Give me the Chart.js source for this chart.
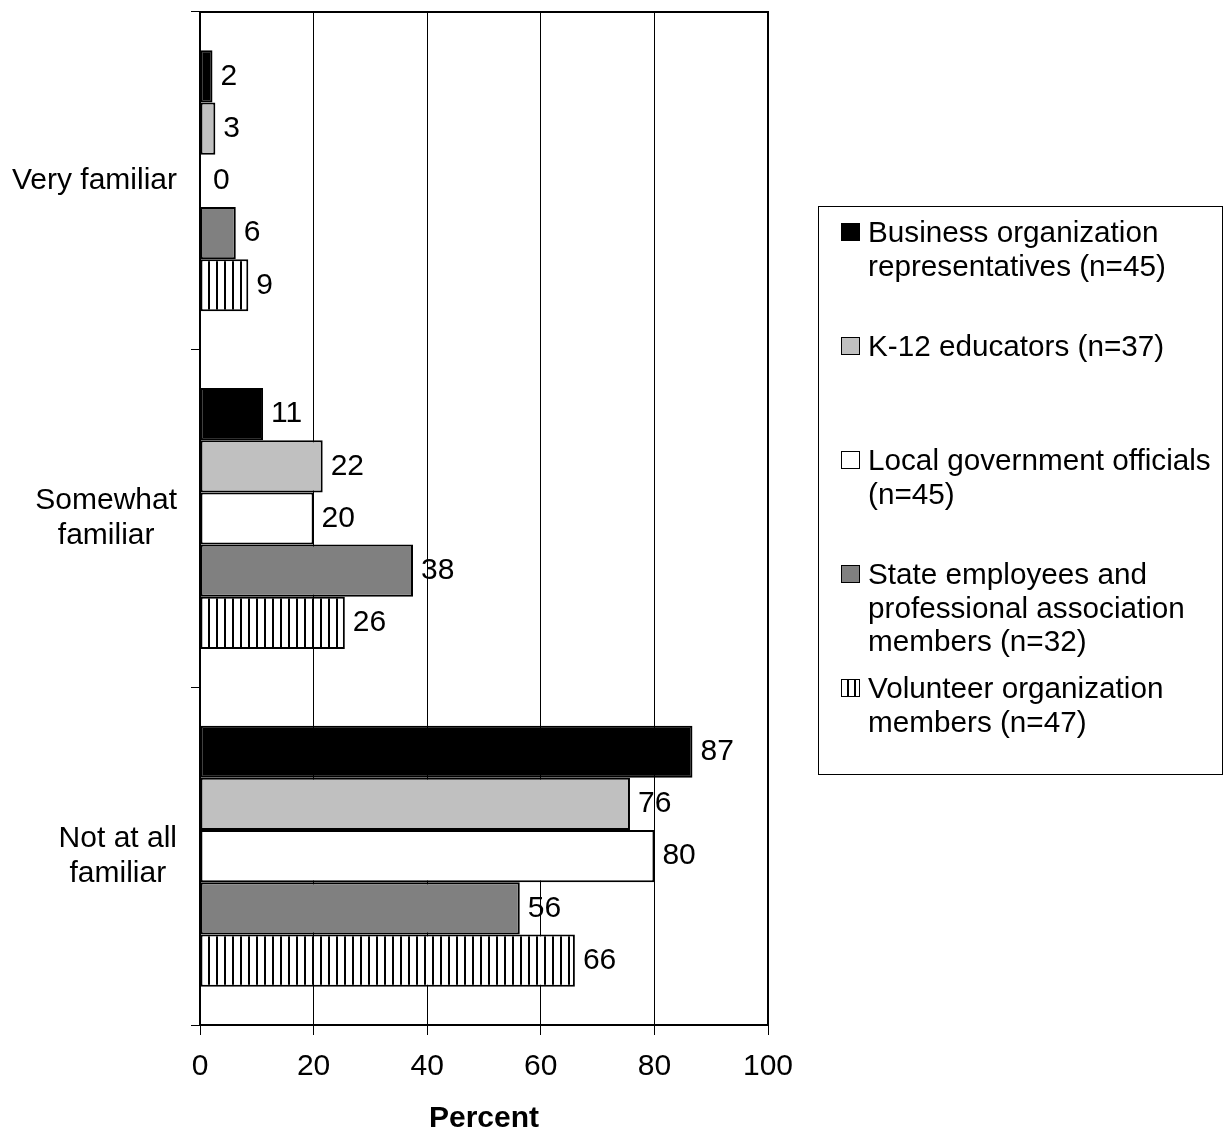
<!DOCTYPE html>
<html>
<head>
<meta charset="utf-8">
<script src="https://cdn.jsdelivr.net/npm/chart.js@4.4.0/dist/chart.umd.min.js"></script>
<style>
    html, body { margin: 0; padding: 0; background: #fff; }
    #wrap { position: relative; width: 1225px; height: 1132px; }
    #legend {
        position: absolute; left: 818px; top: 206px; width: 405px; height: 569px;
        border: 1px solid #000; box-sizing: border-box;
        font-family: "Liberation Sans", Arial, sans-serif; font-size: 29.7px; line-height: 33.5px; color: #000;
    }
    #legend .item { position: absolute; left: 49px; white-space: nowrap; }
    #legend .sw { position: absolute; left: -27px; top: 8px; width: 19px; height: 18px; border: 1.5px solid #000; box-sizing: border-box; }
</style>
</head>
<body>
<div id="wrap">
    <canvas id="grafico" width="1225" height="1132"></canvas>
    <div id="legend"></div>
</div>
<script>
// Categorias e séries (percentuais)
const categories = [['Very familiar'], ['Somewhat', 'familiar'], ['Not at all', 'familiar']];
const seriesNames = [
    ['Business organization', 'representatives (n=45)'],
    ['K-12 educators (n=37)'],
    ['Local government officials', '(n=45)'],
    ['State employees and', 'professional association', 'members (n=32)'],
    ['Volunteer organization', 'members (n=47)']
];
const business = [2.2, 11.1, 86.7];
const k12 = [2.7, 21.6, 75.7];
const localGov = [0, 20.0, 80.0];
const stateEmp = [6.3, 37.5, 56.3];
const volunteer = [8.5, 25.5, 66.0];
const xTicks = [0, 20, 40, 60, 80, 100];
const fills = ['#000000', '#c0c0c0', '#ffffff', '#808080', 'stripes'];
const legendTops = [8, 122, 236, 350, 464];

const FONT = '"Liberation Sans", Arial, sans-serif';
const SIZE = 30;

function stripes() {
    const c = document.createElement('canvas');
    c.width = 8; c.height = 8;
    const g = c.getContext('2d');
    g.fillStyle = '#fff';
    g.fillRect(0, 0, 8, 8);
    g.fillStyle = '#000';
    g.fillRect(0, 0, 2, 8);
    return g.createPattern(c, 'repeat');
}

const allSeries = [business, k12, localGov, stateEmp, volunteer];

// moldura do gráfico
const frame = {
    id: 'frame',
    afterDatasetsDraw(chart) {
        const a = chart.chartArea, ctx = chart.ctx;
        ctx.save();
        ctx.strokeStyle = '#000';
        ctx.lineWidth = 2;
        ctx.strokeRect(a.left, a.top, a.right - a.left, a.bottom - a.top);
        ctx.restore();
    }
};

// rótulos dos valores
const valueLabels = {
    id: 'valueLabels',
    afterDatasetsDraw(chart) {
        const ctx = chart.ctx;
        ctx.save();
        ctx.font = SIZE + 'px ' + FONT;
        ctx.fillStyle = '#000';
        ctx.textAlign = 'left';
        ctx.textBaseline = 'middle';
        chart.data.datasets.forEach((ds, i) => {
            chart.getDatasetMeta(i).data.forEach((bar, j) => {
                const gap = ds.data[j] === 0 ? 13 : 8;
                ctx.fillText(String(Math.round(ds.data[j])), bar.x + gap, bar.y);
            });
        });
        ctx.restore();
    }
};

// rótulos das categorias (linhas centradas, bloco alinhado à direita)
const categoryLabels = {
    id: 'categoryLabels',
    afterDraw(chart) {
        const ctx = chart.ctx, y = chart.scales.y;
        ctx.save();
        ctx.font = SIZE + 'px ' + FONT;
        ctx.fillStyle = '#000';
        ctx.textAlign = 'center';
        ctx.textBaseline = 'middle';
        const right = y.right - 23;
        categories.forEach((lines, i) => {
            const yc = y.getPixelForValue(i);
            const w = Math.max(...lines.map(l => ctx.measureText(l).width));
            lines.forEach((l, k) => {
                ctx.fillText(l, right - w / 2, yc + (k - (lines.length - 1) / 2) * 34.8);
            });
        });
        ctx.restore();
    }
};

document.addEventListener('DOMContentLoaded', function() {
    const hatch = stripes();
    const ctx = document.getElementById('grafico').getContext('2d');
    new Chart(ctx, {
        type: 'bar',
        data: {
            labels: categories,
            datasets: allSeries.map((d, i) => ({
                label: seriesNames[i].join(' '),
                data: d,
                backgroundColor: fills[i] === 'stripes' ? hatch : fills[i],
                borderColor: '#000',
                borderWidth: 2,
                borderSkipped: false,
                categoryPercentage: 0.773,
                barPercentage: 1.0
            }))
        },
        options: {
            indexAxis: 'y',
            responsive: false,
            animation: false,
            devicePixelRatio: 1,
            layout: { padding: { top: 12, right: 457, left: 0, bottom: 0 } },
            scales: {
                x: {
                    min: 0,
                    max: 100,
                    afterBuildTicks: s => { s.ticks = xTicks.map(v => ({ value: v })); },
                    afterFit: s => { s.height = 107; },
                    ticks: { color: '#000', font: { family: FONT, size: SIZE }, padding: 14, maxRotation: 0 },
                    grid: { color: '#000', lineWidth: 1, tickLength: 10 },
                    border: { color: '#000', width: 2 },
                    title: {
                        display: true,
                        text: 'Percent',
                        color: '#000',
                        font: { family: FONT, size: SIZE, weight: 'bold', lineHeight: 0.9 },
                        padding: 0
                    }
                },
                y: {
                    afterFit: s => { s.width = 200; },
                    ticks: { display: false },
                    grid: { offset: true, drawOnChartArea: false, color: '#000', lineWidth: 1, tickLength: 9 },
                    border: { color: '#000', width: 2 }
                }
            },
            plugins: {
                legend: { display: false },
                tooltip: { enabled: false }
            }
        },
        plugins: [frame, valueLabels, categoryLabels]
    });

    // legenda em HTML
    const leg = document.getElementById('legend');
    seriesNames.forEach((lines, i) => {
        const item = document.createElement('div');
        item.className = 'item';
        item.style.top = legendTops[i] + 'px';
        const sw = document.createElement('span');
        sw.className = 'sw';
        sw.style.background = fills[i] === 'stripes'
            ? 'repeating-linear-gradient(90deg, #fff 0 5px, #000 5px 7px)'
            : fills[i];
        item.appendChild(sw);
        item.insertAdjacentHTML('beforeend', lines.join('<br>'));
        leg.appendChild(item);
    });
});
</script>
</body>
</html>
